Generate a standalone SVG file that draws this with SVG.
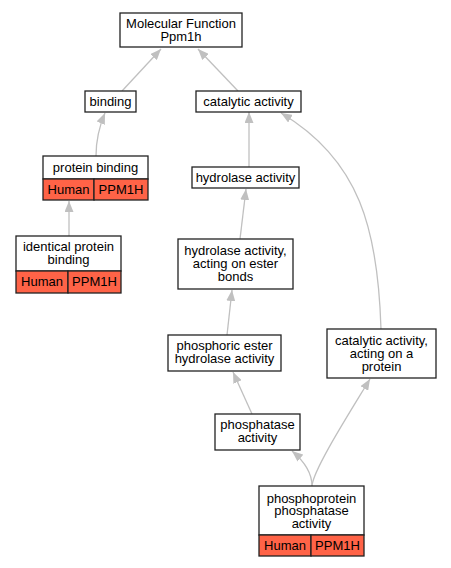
<svg xmlns="http://www.w3.org/2000/svg" width="451" height="568" viewBox="0 0 451 568">
<style>
.box{fill:#fff;stroke:#222;stroke-width:1.3}
.sp{fill:#ff6347;stroke:#222;stroke-width:1.3}
text{font-family:"Liberation Sans",Arial,sans-serif;font-size:13px;fill:#000;text-anchor:middle}
.e{fill:none;stroke:#c0c0c0;stroke-width:1.3;marker-end:url(#ah)}
</style>
<defs>
<marker id="ah" markerUnits="userSpaceOnUse" markerWidth="11" markerHeight="9" refX="11" refY="4.5" orient="auto">
<path d="M0,0 L11,4.5 L0,9 z" fill="#c0c0c0"/>
</marker>
</defs>
<rect width="451" height="568" fill="#fff"/>
<g id="edges">
<path class="e" d="M122,91 L161,49"/>
<path class="e" d="M238,91 L198,49"/>
<path class="e" d="M96,156 C96,142 99,127 105,113"/>
<path class="e" d="M69,236 L69,201"/>
<path class="e" d="M249,167 L249,112"/>
<path class="e" d="M240,239 L246,189"/>
<path class="e" d="M227,335 L232,290"/>
<path class="e" d="M252,414 L233,372"/>
<path class="e" d="M312,486 C312,474 305,462 292,451"/>
<path class="e" d="M312,486 C313,470 350,412 370,379"/>
<path class="e" d="M381,329 C378,230 360,160 281,113"/>
</g>
<g id="n_mf">
<rect class="box" x="120" y="13" width="122" height="34"/>
<text x="181" y="27.5">Molecular Function</text>
<text x="181" y="40.5">Ppm1h</text>
</g>
<g id="n_binding">
<rect class="box" x="85" y="91" width="51" height="21"/>
<text x="110.5" y="106">binding</text>
</g>
<g id="n_catalytic">
<rect class="box" x="196" y="91" width="105" height="21"/>
<text x="248.5" y="106">catalytic activity</text>
</g>
<g id="n_protein_binding">
<rect class="box" x="43" y="156" width="105" height="23"/>
<text x="95.5" y="172">protein binding</text>
<rect class="sp" x="43" y="179" width="51" height="21"/>
<rect class="sp" x="94" y="179" width="54" height="21"/>
<text x="68.5" y="193.5">Human</text>
<text x="121" y="193.5">PPM1H</text>
</g>
<g id="n_identical">
<rect class="box" x="16" y="236" width="105" height="35"/>
<text x="68.5" y="251">identical protein</text>
<text x="68.5" y="264">binding</text>
<rect class="sp" x="16" y="271" width="52" height="22"/>
<rect class="sp" x="68" y="271" width="53" height="22"/>
<text x="42" y="285.5">Human</text>
<text x="94.5" y="285.5">PPM1H</text>
</g>
<g id="n_hydrolase">
<rect class="box" x="192" y="167" width="107" height="21"/>
<text x="245.5" y="182">hydrolase activity</text>
</g>
<g id="n_ester">
<rect class="box" x="178" y="239" width="115" height="50"/>
<text x="235.5" y="255">hydrolase activity,</text>
<text x="235.5" y="268">acting on ester</text>
<text x="235.5" y="281">bonds</text>
</g>
<g id="n_phosphoric">
<rect class="box" x="168" y="335" width="113" height="36"/>
<text x="224.5" y="350">phosphoric ester</text>
<text x="224.5" y="363">hydrolase activity</text>
</g>
<g id="n_cat_protein">
<rect class="box" x="327" y="329" width="109" height="49"/>
<text x="381.5" y="344.5">catalytic activity,</text>
<text x="381.5" y="357.5">acting on a</text>
<text x="381.5" y="370.5">protein</text>
</g>
<g id="n_phosphatase">
<rect class="box" x="215" y="414" width="85" height="36"/>
<text x="257.5" y="429">phosphatase</text>
<text x="257.5" y="442">activity</text>
</g>
<g id="n_phosphoprotein">
<rect class="box" x="259" y="486" width="105" height="49"/>
<text x="311.5" y="502.5">phosphoprotein</text>
<text x="311.5" y="515">phosphatase</text>
<text x="311.5" y="528">activity</text>
<rect class="sp" x="259" y="535" width="52" height="21"/>
<rect class="sp" x="311" y="535" width="53" height="21"/>
<text x="285" y="549.5">Human</text>
<text x="337.5" y="549.5">PPM1H</text>
</g>
</svg>
